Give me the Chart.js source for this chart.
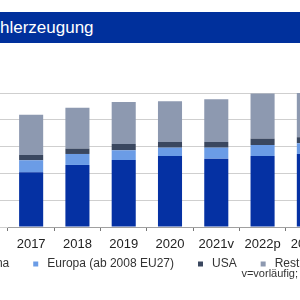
<!DOCTYPE html>
<html lang="de">
<head>
<meta charset="UTF-8">
<title>Rohstahlerzeugung</title>
<script src="https://cdn.jsdelivr.net/npm/chart.js"></script>
<style>
  body { margin: 0; width: 300px; height: 300px; overflow: hidden; background: #fff; position: relative; font-family: "Liberation Sans", Arial, sans-serif; }
  #banner { position: absolute; left: 0; top: 12px; width: 300px; height: 31px; background: #00309c; color: #fff; font-size: 17px; line-height: 31px; white-space: nowrap; }
  #box { position: absolute; left: -69px; top: 44px; width: 450px; height: 256px; }
  #note { position: absolute; right: 2px; top: 267px; font-size: 11px; line-height: 13px; color: #333; white-space: nowrap; }
</style>
</head>
<body>
<div id="banner">hlerzeugung</div>
<div id="box"><canvas id="myChart" width="450" height="256"></canvas></div>
<div id="note">v=vorläufig;</div>
<script>
  // Mio. t (2023p partly cut off at the right edge)
  const years = ['2017', '2018', '2019', '2020', '2021v', '2022p', '2023p'];
  const china = [817, 926, 1000, 1060, 1020, 1060, 1090];
  const europa = [179, 164, 145, 124, 164, 164, 160];
  const usa = [79, 79, 94, 85, 85, 94, 90];
  const rest = [602, 612, 627, 608, 637, 676, 680];
  const yTicks = [0, 400, 800, 1200, 1600, 2000];

  // legend sits closer to the axis labels than Chart.js would put it
  const liftLegend = {
    id: 'liftLegend',
    afterLayout(chart) {
      chart.legend.top -= 16;
      chart.legend.bottom -= 16;
    }
  };

  const ctx = document.getElementById('myChart');

  new Chart(ctx, {
    type: 'bar',
    data: {
      labels: years,
      datasets: [{
        label: 'China',
        data: china,
        backgroundColor: '#0531a3'
      }, {
        label: 'Europa (ab 2008 EU27)',
        data: europa,
        backgroundColor: '#6b9ce6'
      }, {
        label: 'USA',
        data: usa,
        backgroundColor: '#3a475f'
      }, {
        label: 'Restliche Welt',
        data: rest,
        backgroundColor: '#8d99b0'
      }]
    },
    plugins: [liftLegend],
    options: {
      responsive: false,
      animation: false,
      datasets: { bar: { categoryPercentage: 1, barPercentage: 0.52, borderWidth: 0 } },
      layout: { padding: { top: 49, bottom: 7 } },
      scales: {
        x: {
          stacked: true,
          grid: { offset: true, drawOnChartArea: false, tickLength: 4, tickColor: '#777' },
          border: { color: '#a0a0a0' },
          ticks: { color: '#222', padding: 6, font: { family: 'Liberation Sans', size: 13 } },
          afterFit: s => { s.height = 26; }
        },
        y: {
          stacked: true,
          min: yTicks[0],
          max: yTicks[yTicks.length - 1],
          afterBuildTicks: s => { s.ticks = yTicks.map(v => ({ value: v })); },
          grid: { color: '#cfcfcf', tickLength: 77 },
          border: { display: false },
          ticks: { display: false },
          afterFit: s => { s.width = 77; }
        },
        y2: {
          position: 'right',
          grid: { display: false },
          border: { display: false },
          ticks: { display: false },
          afterFit: s => { s.width = 49; }
        }
      },
      plugins: {
        tooltip: { enabled: false },
        legend: {
          position: 'bottom',
          maxHeight: 40,
          labels: {
            usePointStyle: true,
            pointStyle: 'rect',
            boxWidth: 11,
            boxHeight: 5,
            padding: 21,
            color: '#333',
            font: { family: 'Liberation Sans', size: 12 }
          }
        }
      }
    }
  });
</script>
</body>
</html>
